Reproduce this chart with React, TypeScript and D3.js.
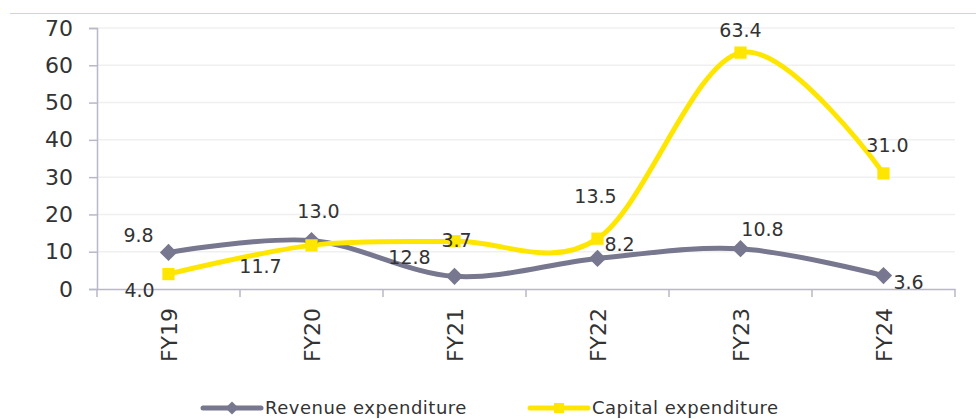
import React, { useEffect, useRef } from 'react';
import * as d3 from 'd3';

const categories = ['FY19', 'FY20', 'FY21', 'FY22', 'FY23', 'FY24'];
const revenueValues = [9.8, 13.0, 3.4, 8.2, 10.8, 3.6];
const capitalValues = [4.0, 11.7, 12.8, 13.5, 63.4, 31.0];
// labels as printed in the source (FY21 labels are swapped there)
const revenueLabels = ['9.8', '13.0', '3.7', '8.2', '10.8', '3.6'];
const capitalLabels = ['4.0', '11.7', '12.8', '13.5', '63.4', '31.0'];
const yTicks = [0, 10, 20, 30, 40, 50, 60, 70];

// label offsets from the marker (dx, dy to text centre)
const revenueLabelOffsets = [[-30, -17], [7, -29], [2, -36], [22, -14], [22, -20], [25, 7]];
const capitalLabelOffsets = [[-29, 16], [-51, 21], [-45, 16], [-2, -43], [0, -22], [4, -28]];

const GRAY = '#77778f';
const YELLOW = '#ffe600';

export default function App() {
  const svgRef = useRef<SVGSVGElement>(null);

  useEffect(() => {
    if (!svgRef.current) return;
    const svg = d3.select(svgRef.current);
    svg.selectAll('*').remove();

    const width = 976;
    const height = 419;
    const margin = { top: 28, right: 21, bottom: 130, left: 97 };
    const font = "'DejaVu Sans', Verdana, sans-serif";

    // top rule
    svg.append('line')
      .attr('x1', 10).attr('x2', width).attr('y1', 13.5).attr('y2', 13.5)
      .attr('stroke', YELLOW).attr('stroke-width', 1);

    const x = d3.scaleBand<string>()
      .domain(categories)
      .range([margin.left, width - margin.right]);

    const y = d3.scaleLinear()
      .domain([0, 70])
      .range([height - margin.bottom, margin.top]);

    const cx = (c: string) => (x(c) || 0) + x.bandwidth() / 2;

    // gridlines
    svg.append('g')
      .selectAll('line')
      .data(yTicks.filter(t => t > 0))
      .enter()
      .append('line')
      .attr('x1', margin.left).attr('x2', width - margin.right)
      .attr('y1', d => y(d)).attr('y2', d => y(d))
      .attr('stroke', '#f0f0f0').attr('stroke-width', 1.5);

    // y axis
    const yAxis = svg.append('g')
      .attr('transform', `translate(${margin.left},0)`)
      .call(d3.axisLeft(y).tickValues(yTicks).tickSize(8).tickPadding(16));
    yAxis.select('.domain').attr('stroke', '#b8b8c8').attr('stroke-width', 1.5);
    yAxis.selectAll('.tick line').attr('stroke', '#b8b8c8').attr('stroke-width', 1.5);
    yAxis.selectAll('.tick text')
      .attr('font-family', font).attr('font-size', 22).attr('fill', '#333333');

    // x axis
    const xAxis = svg.append('g')
      .attr('transform', `translate(0,${y(0)})`)
      .call(d3.axisBottom(x).tickSize(0).tickFormat(() => ''));
    xAxis.select('.domain').attr('stroke', '#b8b8c8').attr('stroke-width', 1.5);
    const bounds = [...categories.map(c => x(c) || 0), width - margin.right];
    xAxis.selectAll('.sep')
      .data(bounds)
      .enter()
      .append('line')
      .attr('x1', d => d).attr('x2', d => d)
      .attr('y1', 0).attr('y2', 8)
      .attr('stroke', '#b8b8c8').attr('stroke-width', 1.5);

    svg.append('g')
      .selectAll('text')
      .data(categories)
      .enter()
      .append('text')
      .attr('transform', d => `translate(${cx(d) + 8},${y(0) + 19}) rotate(-90)`)
      .attr('text-anchor', 'end')
      .attr('font-family', font).attr('font-size', 22).attr('fill', '#333333')
      .text(d => d);

    const line = d3.line<number>()
      .x((_, i) => cx(categories[i]))
      .y(d => y(d))
      .curve(d3.curveCardinal.tension(0));

    const series = [
      { values: revenueValues, labels: revenueLabels, offsets: revenueLabelOffsets, color: GRAY, marker: 'diamond' },
      { values: capitalValues, labels: capitalLabels, offsets: capitalLabelOffsets, color: YELLOW, marker: 'square' },
    ];

    series.forEach(s => {
      svg.append('path')
        .datum(s.values)
        .attr('d', line)
        .attr('fill', 'none')
        .attr('stroke', s.color)
        .attr('stroke-width', 5)
        .attr('stroke-linejoin', 'round');
    });

    series.forEach(s => {
      const sym = s.marker === 'diamond'
        ? d3.symbol().type(d3.symbolDiamond2).size(190)
        : d3.symbol().type(d3.symbolSquare).size(150);
      svg.append('g')
        .selectAll('path')
        .data(s.values)
        .enter()
        .append('path')
        .attr('d', sym as any)
        .attr('transform', (d, i) => `translate(${cx(categories[i])},${y(d)})`)
        .attr('fill', s.color);
    });

    series.forEach(s => {
      svg.append('g')
        .selectAll('text')
        .data(s.values)
        .enter()
        .append('text')
        .attr('x', (_, i) => cx(categories[i]) + s.offsets[i][0])
        .attr('y', (d, i) => y(d) + s.offsets[i][1])
        .attr('dy', '0.36em')
        .attr('text-anchor', 'middle')
        .attr('font-family', font).attr('font-size', 19).attr('fill', '#333333')
        .text((_, i) => s.labels[i]);
    });

    // legend
    const legendItems = [
      { name: 'Revenue expenditure', color: GRAY, marker: 'diamond', x: 203 },
      { name: 'Capital expenditure', color: YELLOW, marker: 'square', x: 530 },
    ];
    const ly = 408;
    legendItems.forEach(l => {
      const g = svg.append('g').attr('transform', `translate(${l.x},${ly})`);
      g.append('line')
        .attr('x1', 0).attr('x2', 58).attr('y1', 0).attr('y2', 0)
        .attr('stroke', l.color).attr('stroke-width', 5).attr('stroke-linecap', 'round');
      g.append('path')
        .attr('d', (l.marker === 'diamond'
          ? d3.symbol().type(d3.symbolDiamond2).size(110)
          : d3.symbol().type(d3.symbolSquare).size(100))() as string)
        .attr('transform', 'translate(29,0)')
        .attr('fill', l.color);
      g.append('text')
        .attr('x', 62).attr('y', 0).attr('dy', '0.36em')
        .attr('font-family', font).attr('font-size', 18).attr('letter-spacing', 0.5)
        .attr('fill', '#333333')
        .text(l.name);
    });
  }, []);

  return (
    <div style={{ position: 'absolute', left: 0, top: 0, width: 976, height: 419, background: '#fff' }}>
      <svg ref={svgRef} width={976} height={419} style={{ display: 'block' }}></svg>
    </div>
  );
}
